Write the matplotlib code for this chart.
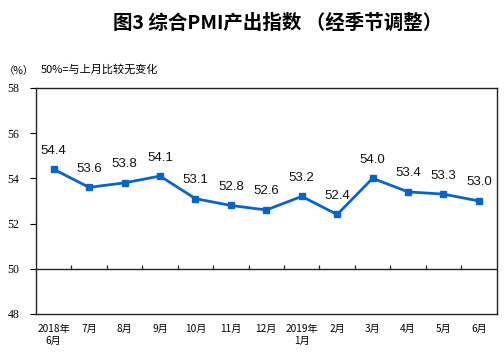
import numpy as np
import matplotlib.pyplot as plt

plt.rcParams['font.family'] = ['Noto Sans CJK SC', 'DejaVu Sans']

months = ['2018年\n6月', '7月', '8月', '9月', '10月', '11月', '12月',
          '2019年\n1月', '2月', '3月', '4月', '5月', '6月']
pmi_output = [54.4, 53.6, 53.8, 54.1, 53.1, 52.8, 52.6,
              53.2, 52.4, 54.0, 53.4, 53.3, 53.0]
y_ticks = [48, 50, 52, 54, 56, 58]

fig = plt.figure(figsize=(5.04, 3.55), dpi=100)
ax = fig.add_axes([0.0714, 0.1155, 0.914, 0.637])

x = np.arange(len(months))
ax.plot(x, pmi_output, color='#0a64c8', linewidth=2, marker='s',
        markersize=4.5)
for xi, v in zip(x, pmi_output):
    ax.annotate(f'{v:.1f}', (xi, v), xytext=(0, 9), textcoords='offset points',
                ha='center', va='bottom', fontsize=9.5,
                family='Liberation Sans', color='#111111')

# 50 reference line with category separator ticks
ax.axhline(50, color='#222222', linewidth=1)
ax.vlines(np.arange(0.5, len(months) - 1), 50, 50.18, color='#222222',
          linewidth=0.9)

ax.set_xlim(-0.5, len(months) - 0.5)
ax.set_ylim(48, 58)
ax.set_yticks(y_ticks)
ax.set_yticklabels([str(t) for t in y_ticks], family='Liberation Serif',
                   fontsize=8.5)
ax.set_xticks(x)
ax.set_xticklabels(months, fontsize=7.3, linespacing=1.3)
ax.tick_params(axis='x', length=0, pad=7)
ax.tick_params(axis='y', length=4, width=0.8, direction='out', pad=8)
for s in ax.spines.values():
    s.set_color('#222222')
    s.set_linewidth(1)

fig.text(0.55, 0.935, '图3 综合PMI产出指数 （经季节调整）', ha='center',
         va='center', fontsize=14, fontweight='bold')
fig.text(0.008, 0.8, '（%）', ha='left', va='center', fontsize=7.5)
fig.text(0.08, 0.805, '50%=与上月比较无变化', ha='left', va='center',
         fontsize=8)

fig.savefig('out.png', dpi=100)
